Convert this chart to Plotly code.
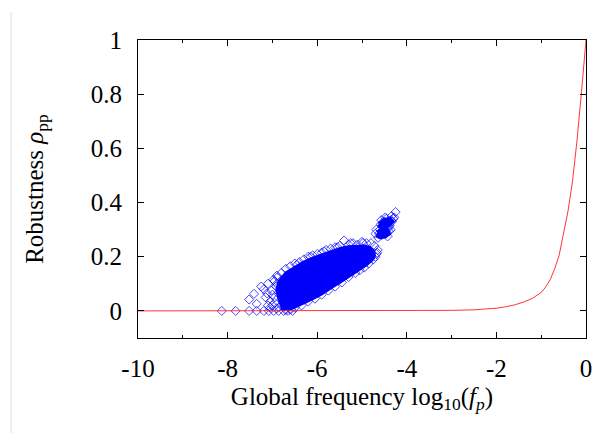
import plotly.graph_objects as go

# Red curve: robustness vs log10 frequency
curve_x = [-10, -4, -3.5, -3, -2.5, -2.2, -2.0, -1.8, -1.6, -1.4, -1.2, -1.0, -0.9, -0.8,
           -0.7, -0.6, -0.5, -0.4, -0.3, -0.2, -0.1, 0]
curve_y = [0, 0.0005, 0.001, 0.002, 0.004, 0.007, 0.01, 0.015, 0.022, 0.032, 0.046, 0.068, 0.088, 0.115,
           0.155, 0.205, 0.285, 0.37, 0.48, 0.63, 0.81, 1.0]

# Dense core of the scatter cloud (outline)
core_x = [-6.75, -6.85, -6.9, -6.85, -6.7, -6.5, -6.3, -6.1, -5.9, -5.7, -5.5, -5.3, -5.1, -4.95,
          -4.82, -4.74, -4.72, -4.76, -4.9, -5.1, -5.3, -5.5, -5.7, -5.9, -6.1, -6.3, -6.5, -6.65]
core_y = [0.0, 0.04, 0.08, 0.11, 0.14, 0.16, 0.18, 0.195, 0.207, 0.22, 0.23, 0.237, 0.24, 0.24,
          0.234, 0.222, 0.205, 0.19, 0.17, 0.148, 0.125, 0.105, 0.085, 0.063, 0.045, 0.028, 0.014, 0.004]

# Upper separate cluster (dense cores)
blob_a_x = [-4.62, -4.5, -4.38, -4.32, -4.4, -4.55, -4.64]
blob_a_y = [0.32, 0.335, 0.34, 0.33, 0.318, 0.312, 0.315]
blob_b_x = [-4.66, -4.55, -4.45, -4.4, -4.48, -4.6, -4.68]
blob_b_y = [0.29, 0.302, 0.3, 0.285, 0.275, 0.272, 0.28]

# Individual points (edges, outliers, upper cluster)
pts_x = [-8.13, -7.82, -7.52, -7.35, -7.19, -7.08, -6.97, -6.86, -6.75, -6.65, -6.55,
         -7.52, -7.41, -7.35, -7.19, -7.15, -7.05, -7.1, -7.25, -7.0, -6.95, -7.05, -6.9,
         -7.0, -6.95, -7.02, -6.92, -6.98, -6.88, -6.85, -6.8, -6.9, -7.1, -7.12,
         -6.95, -6.9, -6.8, -6.7, -6.6, -6.5, -6.4, -6.3, -6.2, -6.1, -6.0, -5.9, -5.8, -5.7,
         -5.6, -5.5, -5.4, -5.3, -5.2, -5.1, -5.0, -4.9, -4.8, -4.72, -4.65, -4.68, -4.7,
         -4.75, -4.85, -4.95, -5.05, -5.15, -5.3, -5.45, -5.6, -5.75, -5.9, -6.05, -6.2,
         -6.35, -6.5, -6.6, -6.7, -6.45, -6.15, -5.85, -5.55, -5.25, -4.98, -4.66,
         -4.62, -4.56, -4.5, -4.45, -4.4, -4.55, -4.5, -4.45, -4.4, -4.48, -4.52, -4.38,
         -4.6, -4.35, -4.42, -4.58, -4.47, -4.3, -4.25, -4.64, -4.53, -4.43, -4.36, -4.49,
         -4.57, -4.46, -4.41, -4.33, -4.7, -4.68, -4.28, -4.34]
pts_y = [0, 0, 0, 0, 0, 0, 0, 0, 0, 0, 0,
         0.042, 0.063, 0.026, 0.08, 0.05, 0.035, 0.1, 0.09, 0.06, 0.03, 0.012, 0.1,
         0.02, 0.05, 0.075, 0.09, 0.115, 0.125, 0.06, 0.02, 0.01, 0.02, 0.065,
         0.11, 0.13, 0.14, 0.155, 0.165, 0.175, 0.18, 0.19, 0.2, 0.205, 0.21, 0.215, 0.225, 0.23,
         0.235, 0.24, 0.26, 0.245, 0.25, 0.245, 0.255, 0.25, 0.25, 0.24, 0.225, 0.21, 0.2,
         0.19, 0.175, 0.16, 0.15, 0.14, 0.125, 0.105, 0.09, 0.075, 0.06, 0.045, 0.035,
         0.02, 0.012, 0.005, 0.003, 0.17, 0.2, 0.22, 0.235, 0.25, 0.25, 0.215,
         0.285, 0.28, 0.3, 0.29, 0.295, 0.31, 0.33, 0.32, 0.33, 0.345, 0.325, 0.315,
         0.3, 0.335, 0.305, 0.32, 0.31, 0.34, 0.365, 0.27, 0.295, 0.275, 0.3, 0.285,
         0.335, 0.34, 0.315, 0.33, 0.285, 0.3, 0.345, 0.35]

x_ticks = [-10, -8, -6, -4, -2, 0]
y_ticks = [0, 0.2, 0.4, 0.6, 0.8, 1]

fig = go.Figure()
for bx, by, w in [(core_x, core_y, 3), (blob_a_x, blob_a_y, 4), (blob_b_x, blob_b_y, 4)]:
    fig.add_trace(go.Scatter(x=bx, y=by, mode="lines", fill="toself",
                             fillcolor="rgb(0,0,250)", line=dict(color="rgb(0,0,250)", width=w),
                             hoverinfo="skip", showlegend=False))
fig.add_trace(go.Scatter(x=pts_x, y=pts_y, mode="markers",
                         marker=dict(symbol="diamond-open", size=7,
                                     line=dict(color="rgba(0,0,255,0.7)", width=1),
                                     color="rgba(0,0,255,0.7)"),
                         showlegend=False))
fig.add_trace(go.Scatter(x=curve_x, y=curve_y, mode="lines",
                         line=dict(color="rgba(255,30,30,0.9)", width=1), showlegend=False))

font_family = "Liberation Serif"
axis_common = dict(showline=True, linecolor="black", linewidth=1, mirror="allticks",
                   ticks="inside", tickcolor="black", ticklen=6, showgrid=False, zeroline=False,
                   tickfont=dict(family=font_family, size=25, color="black"))

fig.update_xaxes(range=[-10, 0], tickvals=x_ticks, ticktext=[str(v) for v in x_ticks],
                 minor=dict(ticks="inside", ticklen=3, dtick=1, tickcolor="black"),
                 title=dict(text="Global frequency log<sub>10</sub>(<i>f<sub>p</sub></i>)",
                            font=dict(family=font_family, size=25, color="black"), standoff=6),
                 ticklabelstandoff=8,
                 **axis_common)
fig.update_yaxes(range=[-0.1, 1], tickvals=y_ticks, ticktext=["0", "0.2", "0.4", "0.6", "0.8", "1"],
                 title=dict(text="Robustness <i>ρ</i><sub>pp</sub>",
                            font=dict(family=font_family, size=25, color="black"), standoff=40),
                 ticklabelstandoff=10,
                 **axis_common)

fig.update_layout(width=604, height=440, margin=dict(l=138, r=14, t=40, b=102),
                  paper_bgcolor="white", plot_bgcolor="white",
                  shapes=[dict(type="line", xref="paper", yref="paper",
                               x0=-0.283, x1=-0.283, y0=-0.319, y1=1.094,
                               line=dict(color="#eeeeee", width=2))])

fig.write_html("out.html")
